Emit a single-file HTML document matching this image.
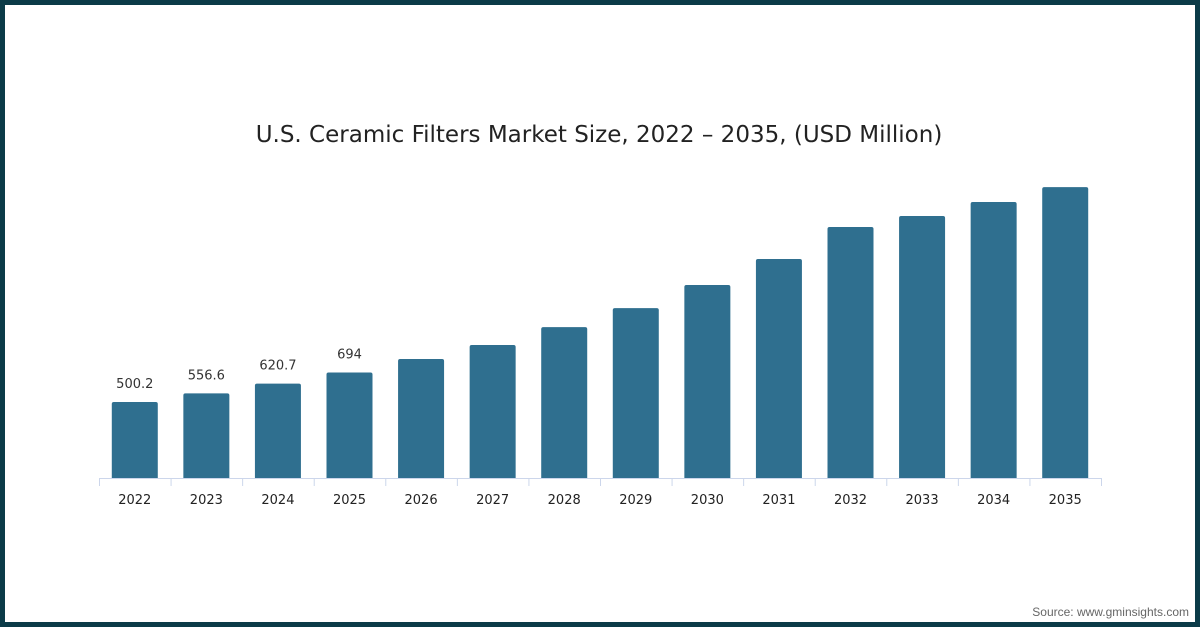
<!DOCTYPE html>
<html><head><meta charset="utf-8"><style>
html,body{margin:0;padding:0;background:#fff}
#frame{position:relative;width:1200px;height:627px;box-sizing:border-box;border:5px solid #0b3b48;background:#fff;overflow:hidden;font-family:"Liberation Sans",sans-serif}
#src{position:absolute;right:6px;bottom:3px;font-size:12px;color:#666}
svg{position:absolute;left:-5px;top:-5px}
</style></head><body>
<div id="frame">
<svg id="chart" width="1200" height="627">
<text x="599" y="142" text-anchor="middle" font-size="23" fill="#222" font-family="'DejaVu Sans','Liberation Sans',sans-serif">U.S. Ceramic Filters Market Size, 2022 – 2035, (USD Million)</text>
</svg>
<div id="src">Source: www.gminsights.com</div>
</div>
<script>
const categories=["2022","2023","2024","2025","2026","2027","2028","2029","2030","2031","2032","2033","2034","2035"];
const values=[500.2,556.6,620.7,694,783,875,993,1118,1270,1441,1651,1724,1816,1914];
const labels=["500.2","556.6","620.7","694","","","","","","","","","",""];
const NS="http://www.w3.org/2000/svg";
const svg=document.getElementById('chart');
const x0=99,x1=1101,base=478,step=(x1-x0)/categories.length,bw=46;
const y=v=>base-v*0.152;
const xc=i=>x0+step*(i+0.5);
function mk(t,a){const e=document.createElementNS(NS,t);for(const k in a)e.setAttribute(k,a[k]);svg.appendChild(e);return e;}
categories.forEach((c,i)=>{
 const top=y(values[i]),l=xc(i)-bw/2;
 const b=mk('path',{d:`M${l},${base}V${top+2}Q${l},${top} ${l+2},${top}H${l+bw-2}Q${l+bw},${top} ${l+bw},${top+2}V${base}Z`,fill:'#2f6f8f'});
 
 
 const t=mk('text',{x:xc(i),y:base+26,'text-anchor':'middle','font-size':13,fill:'#222','font-family':"'DejaVu Sans',sans-serif"});
 t.textContent=c;
 
 
 if(labels[i]){const v=mk('text',{x:xc(i),y:top-14,'text-anchor':'middle','font-size':13,fill:'#333','font-family':"'DejaVu Sans',sans-serif"});v.textContent=labels[i];
 
 }
});
const ax=mk('line',{x1:x0,x2:x1,y1:base+0.5,y2:base+0.5,stroke:'#ccd6eb','stroke-width':1});


for(let i=0;i<=categories.length;i++){const tk=mk('line',{x1:x0+step*i+0.5,x2:x0+step*i+0.5,y1:base,y2:base+8,stroke:'#ccd6eb'});
 
 }
</script>
</body></html>
